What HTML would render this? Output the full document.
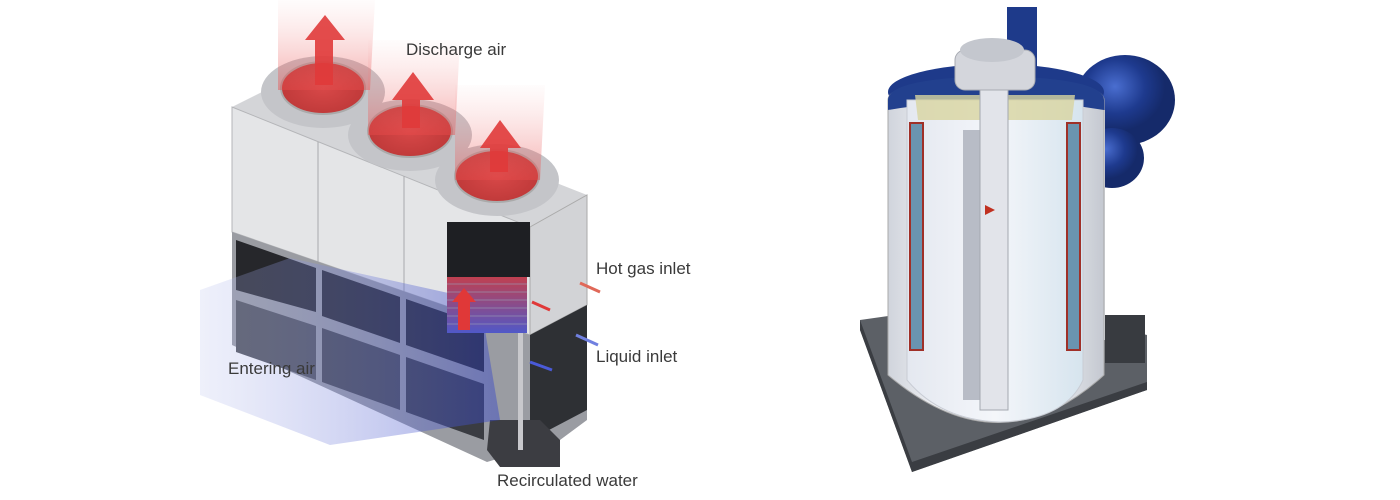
<!DOCTYPE html>
<html><head><meta charset="utf-8"><style>
html,body{margin:0;padding:0;background:#fff;}
.l{position:absolute;font-family:"Liberation Sans",sans-serif;font-size:17px;color:#3a3a3a;white-space:nowrap;}
</style></head><body>
<div style="position:relative;width:1400px;height:500px;overflow:hidden;">
<svg width="1400" height="500" style="position:absolute;left:0;top:0">
<defs>
<linearGradient id="blue" x1="0" x2="1" y1="0" y2="0"><stop offset="0" stop-color="#b4bcec" stop-opacity="0.3"/><stop offset="1" stop-color="#3444c8" stop-opacity="0.6"/></linearGradient>
<linearGradient id="red" x1="0" y1="1" x2="0" y2="0"><stop offset="0" stop-color="#e84a4a" stop-opacity="0.45"/><stop offset="1" stop-color="#f4a0a0" stop-opacity="0.03"/></linearGradient>
<radialGradient id="fan"><stop offset="0" stop-color="#d84848"/><stop offset="1" stop-color="#c03a3a"/></radialGradient>
<linearGradient id="coil" x1="0" y1="0" x2="0" y2="1"><stop offset="0" stop-color="#c04050"/><stop offset="1" stop-color="#5058c8"/></linearGradient>
<linearGradient id="cyl" x1="0" x2="1"><stop offset="0" stop-color="#d0d4dc"/><stop offset="0.25" stop-color="#f2f3f6"/><stop offset="0.75" stop-color="#eceef2"/><stop offset="1" stop-color="#c4c8d0"/></linearGradient>
<linearGradient id="inner" x1="0" x2="1"><stop offset="0" stop-color="#e4e8f0"/><stop offset="0.5" stop-color="#f4f6fa"/><stop offset="1" stop-color="#d6e4ee"/></linearGradient>
<radialGradient id="tank" cx="0.4" cy="0.35"><stop offset="0" stop-color="#4a6ed0"/><stop offset="0.6" stop-color="#1e3a8e"/><stop offset="1" stop-color="#152a6a"/></radialGradient>
</defs>

<!-- LEFT UNIT -->
<polygon points="232,107 290,78 587,195 530,227" fill="#d4d5d8"/>
<polygon points="232,107 530,227 530,335 232,232" fill="#e4e5e7" stroke="#b4b5b8"/>
<line x1="318" y1="142" x2="318" y2="262" stroke="#a8a9ac"/>
<line x1="404" y1="176" x2="404" y2="292" stroke="#a8a9ac"/>
<polygon points="530,227 587,195 587,305 530,335" fill="#d2d3d6" stroke="#aaa"/>
<polygon points="232,232 530,335 587,305 587,420 560,440 487,462 232,345" fill="#9a9ca2"/>
<polygon points="236,240 316,268 316,312 236,290" fill="#26272b"/>
<polygon points="322,270 400,297 400,343 322,316" fill="#26272b"/>
<polygon points="406,299 484,326 484,372 406,345" fill="#26272b"/>
<polygon points="236,300 316,326 316,380 236,352" fill="#505258"/>
<polygon points="322,328 400,355 400,410 322,382" fill="#45474d"/>
<polygon points="406,357 484,384 484,440 406,412" fill="#3a3c42"/>
<polygon points="530,335 587,305 587,410 530,440" fill="#2e3034"/>
<polygon points="490,420 540,420 560,440 560,467 500,467 487,450" fill="#3c3d42"/>
<rect x="518" y="300" width="5" height="150" fill="#c8c8cc"/>
<polygon points="200,290 290,258 480,300 500,420 330,445 200,395" fill="url(#blue)" opacity="0.75"/>
<polygon points="447,222 530,222 530,277 447,277" fill="#1e1f23"/>
<rect x="447" y="277" width="80" height="56" fill="url(#coil)"/>
<g stroke="#9aa0b8" stroke-width="1" opacity="0.6">
<line x1="447" y1="284" x2="527" y2="284"/><line x1="447" y1="292" x2="527" y2="292"/><line x1="447" y1="300" x2="527" y2="300"/><line x1="447" y1="308" x2="527" y2="308"/><line x1="447" y1="316" x2="527" y2="316"/><line x1="447" y1="324" x2="527" y2="324"/>
</g>
<g fill="#c4c5c9">
<ellipse cx="323" cy="92" rx="62" ry="36"/>
<ellipse cx="410" cy="135" rx="62" ry="36"/>
<ellipse cx="497" cy="180" rx="62" ry="36"/>
</g>
<ellipse cx="323" cy="88" rx="42" ry="26" fill="url(#fan)" stroke="#aaa" stroke-width="2"/>
<ellipse cx="410" cy="131" rx="42" ry="26" fill="url(#fan)" stroke="#aaa" stroke-width="2"/>
<ellipse cx="497" cy="176" rx="42" ry="26" fill="url(#fan)" stroke="#aaa" stroke-width="2"/>
<polygon points="278,0 375,0 370,90 278,90" fill="url(#red)"/>
<polygon points="368,40 460,40 455,135 368,135" fill="url(#red)"/>
<polygon points="455,85 545,85 540,180 455,180" fill="url(#red)"/>
<polygon points="315,85 315,40 305,40 325,15 345,40 333,40 333,85" fill="#e03a3a" opacity="0.9"/>
<polygon points="402,128 402,100 392,100 413,72 434,100 420,100 420,128" fill="#e03a3a" opacity="0.9"/>
<polygon points="490,172 490,148 480,148 500,120 521,148 508,148 508,172" fill="#e03a3a" opacity="0.9"/>
<polygon points="458,330 458,302 452,302 464,288 476,302 470,302 470,330" fill="#e03838"/>
<line x1="600" y1="292" x2="580" y2="283" stroke="#e06858" stroke-width="3"/>
<line x1="550" y1="310" x2="532" y2="302" stroke="#e03838" stroke-width="3"/>
<line x1="576" y1="335" x2="598" y2="345" stroke="#7080e0" stroke-width="3"/>
<line x1="530" y1="362" x2="552" y2="370" stroke="#4a5ad8" stroke-width="3"/>

<!-- RIGHT UNIT -->
<polygon points="860,320 1000,300 1147,335 1147,390 912,472 860,330" fill="#5c6066"/>
<polygon points="860,320 912,462 912,472 860,330" fill="#3a3d42"/>
<polygon points="912,462 1147,382 1147,390 912,472" fill="#3a3d42"/>
<rect x="1105" y="315" width="40" height="48" fill="#383b40"/>
<ellipse cx="1125" cy="100" rx="50" ry="45" fill="url(#tank)"/>
<ellipse cx="1112" cy="158" rx="32" ry="30" fill="url(#tank)"/>
<rect x="1007" y="7" width="30" height="60" fill="#1e3a8a"/>
<rect x="1097" y="110" width="8" height="230" fill="#dfe2e8"/>
<ellipse cx="996" cy="92" rx="108" ry="28" fill="#1e3a8a"/>
<path d="M888,100 Q888,80 996,80 Q1104,80 1104,100 L1104,375 Q1000,470 888,375 Z" fill="url(#cyl)" stroke="#aaa"/>
<path d="M888,100 Q888,78 996,76 Q1104,78 1104,100 L1104,110 Q996,92 888,110 Z" fill="#22408e"/>
<path d="M907,100 L907,380 Q940,420 1000,422 Q1065,420 1083,380 L1083,100 Z" fill="url(#inner)" stroke="#c8ccd4"/>
<rect x="910" y="123" width="13" height="227" fill="#6a94b0" stroke="#a03028" stroke-width="2"/>
<rect x="1067" y="123" width="13" height="227" fill="#6a94b0" stroke="#a03028" stroke-width="2"/>
<polygon points="915,95 1075,95 1072,120 918,120" fill="#d8d4a0" opacity="0.8"/>
<rect x="963" y="130" width="17" height="270" fill="#b8bcc6"/>
<rect x="980" y="90" width="28" height="320" fill="#e2e4ea" stroke="#a4a8b0"/>
<rect x="955" y="50" width="80" height="40" rx="10" fill="#d4d6dc" stroke="#a8abb2"/>
<ellipse cx="992" cy="50" rx="32" ry="12" fill="#c4c7ce"/>
<polygon points="985,205 995,210 985,215" fill="#c03020"/>
</svg>
<div class="l" style="left:406px;top:40px">Discharge air</div>
<div class="l" style="left:596px;top:259px">Hot gas inlet</div>
<div class="l" style="left:596px;top:347px">Liquid inlet</div>
<div class="l" style="left:228px;top:359px">Entering air</div>
<div class="l" style="left:497px;top:471px">Recirculated water</div>
</div>
</body></html>
